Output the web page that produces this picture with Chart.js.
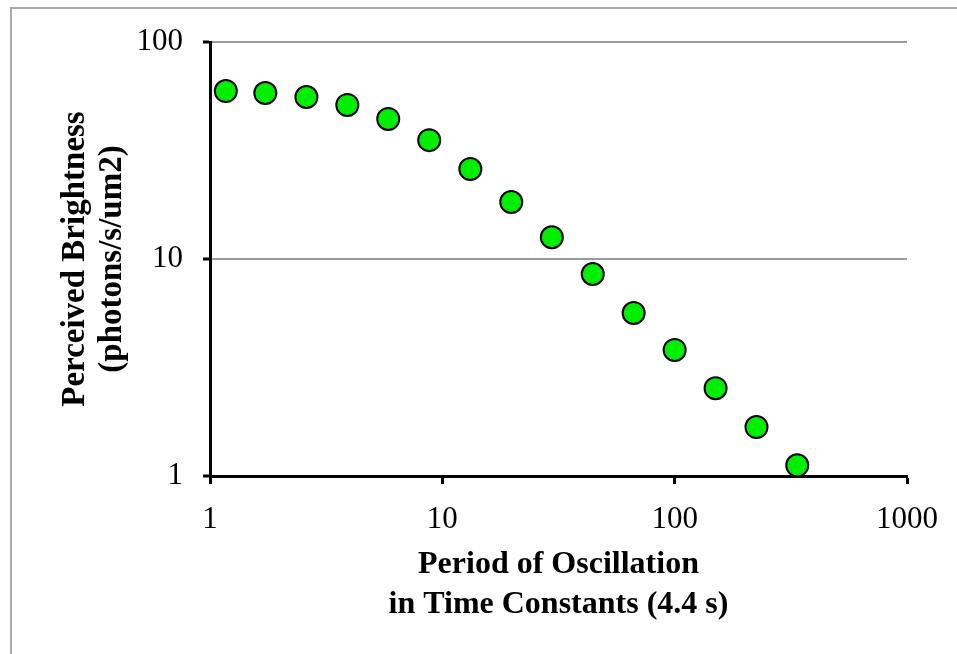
<!DOCTYPE html>
<html>
<head>
<meta charset="utf-8">
<script src="https://cdn.jsdelivr.net/npm/chart.js@4"></script>
<style>
  html, body { margin: 0; padding: 0; background: #ffffff; }
  #wrap { position: relative; width: 957px; height: 654px; overflow: hidden; }
  #frame { position: absolute; left: 10px; top: 7px; width: 980px; height: 700px; border: 2px solid #ababab; box-sizing: border-box; }
  #c { position: absolute; left: 0; top: 0; }
</style>
</head>
<body>
<div id="wrap">
  <div id="frame"></div>
  <canvas id="c" width="957" height="654"></canvas>
</div>
<script>
const periods = [1.17, 1.73, 2.6, 3.9, 5.85, 8.78, 13.2, 19.8, 29.6, 44.4, 66.6, 100, 150, 225, 337];
const brightness = [59.4, 58.2, 55.8, 51.3, 44.2, 35.3, 26.0, 18.3, 12.6, 8.53, 5.64, 3.81, 2.54, 1.68, 1.12];
const xTickValues = [1, 10, 100, 1000];
const yTickValues = [1, 10, 100];
const xTitle = ['Period of Oscillation', 'in Time Constants (4.4 s)'];
const yTitle = ['Perceived Brightness', '(photons/s/um2)'];

const FONT = '"Liberation Serif", "Times New Roman", serif';
const points = periods.map((p, i) => ({ x: p, y: brightness[i] }));

new Chart(document.getElementById('c'), {
  type: 'scatter',
  data: {
    datasets: [{
      data: points,
      backgroundColor: '#00ee00',
      borderColor: '#000000',
      borderWidth: 2,
      pointRadius: 11,
      pointHoverRadius: 11
    }]
  },
  options: {
    responsive: false,
    animation: false,
    events: [],
    layout: { padding: { left: 0, top: 42, right: 50, bottom: 0 } },
    plugins: { legend: { display: false }, tooltip: { enabled: false } },
    scales: {
      x: {
        type: 'logarithmic',
        min: 1, max: 1000,
        afterBuildTicks: s => { s.ticks = xTickValues.map(v => ({ value: v })); },
        afterFit: s => { s.height = 178; },
        border: { color: '#000000', width: 3 },
        grid: { drawOnChartArea: false, drawTicks: true, tickLength: 8, tickColor: '#000000', tickWidth: 3, color: '#000000' },
        ticks: {
          color: '#000000', padding: 17, maxRotation: 0, autoSkip: false,
          font: { family: FONT, size: 31 },
          callback: v => String(v)
        },
        title: {
          display: true, text: xTitle, color: '#000000',
          font: { family: FONT, size: 32, weight: 'bold', lineHeight: 1.25 },
          padding: { top: 0, bottom: 29 }
        }
      },
      y: {
        type: 'logarithmic',
        min: 1, max: 100,
        afterBuildTicks: s => { s.ticks = yTickValues.map(v => ({ value: v })); },
        afterFit: s => { s.width = 210; },
        border: { color: '#000000', width: 3 },
        grid: { drawOnChartArea: true, drawTicks: true, tickLength: 7, tickColor: '#000000', tickWidth: 3, color: '#9a9a9a', lineWidth: 2 },
        ticks: {
          color: '#000000', padding: 20, autoSkip: false,
          font: { family: FONT, size: 31 },
          callback: v => String(v)
        },
        title: {
          display: true, text: yTitle, color: '#000000',
          font: { family: FONT, size: 33, weight: 'bold', lineHeight: 1.12 },
          padding: { top: 57, bottom: 0 }
        }
      }
    }
  }
});
</script>
</body>
</html>
